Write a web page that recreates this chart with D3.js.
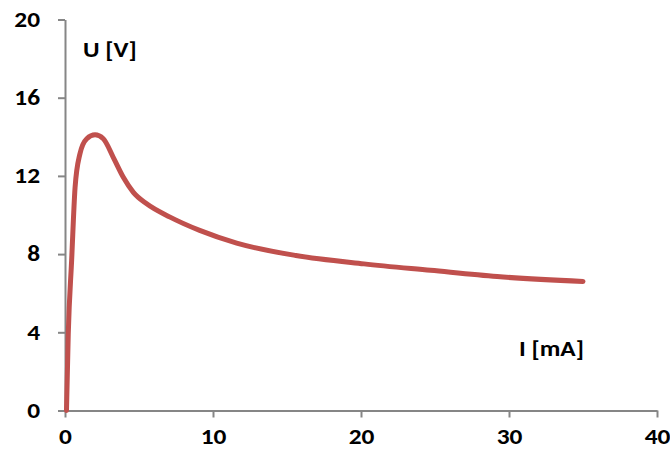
<!DOCTYPE html>
<html>
<head>
<meta charset="utf-8">
<script src="https://cdn.jsdelivr.net/npm/d3@7"></script>
<style>
  body { margin: 0; background: #fff; }
  text {
    font-family: Carlito, Lato, sans-serif;
    font-weight: bold;
    fill: #000;
    transform-box: fill-box;
    transform: scaleX(1.18);
  }
</style>
</head>
<body>
<div id="chart"></div>
<script>
// current I [mA] and voltage U [V]
const current = [0.1, 0.22, 0.45, 0.68, 1.0, 1.47, 2.03, 2.59, 3.26, 3.94, 4.62, 5.52, 7.1, 9.1, 11.6, 15.6, 20.2, 24.7, 29.2, 35];
const voltage = [0, 3.9, 7.7, 11.4, 13.1, 13.9, 14.1, 13.9, 12.95, 11.93, 11.16, 10.57, 9.89, 9.21, 8.56, 7.93, 7.5, 7.17, 6.85, 6.6];
const xTicks = [0, 10, 20, 30, 40];
const yTicks = [0, 4, 8, 12, 16, 20];

const W = 670;
const H = 458;
const margin = { t: 19.5, r: 13, b: 47.5, l: 65 };

const svg = d3.select('#chart').append('svg')
  .attr('width', W)
  .attr('height', H);

const x = d3.scaleLinear().domain([0, 40]).range([margin.l, W - margin.r]);
const y = d3.scaleLinear().domain([0, 20]).range([H - margin.b, margin.t]);

// axes
const xAxis = svg.append('g')
  .attr('transform', `translate(0, ${y(0)})`)
  .call(d3.axisBottom(x).tickValues(xTicks).tickSize(7).tickPadding(11).tickSizeOuter(0));

const yAxis = svg.append('g')
  .attr('transform', `translate(${x(0)}, 0)`)
  .call(d3.axisLeft(y).tickValues(yTicks).tickSize(7).tickPadding(18).tickSizeOuter(0));

[xAxis, yAxis].forEach((g) => {
  g.select('.domain').attr('stroke', '#868686').attr('stroke-width', 2);
  g.selectAll('.tick line').attr('stroke', '#868686').attr('stroke-width', 2);
  g.selectAll('.tick text').style('font-size', '21.5px');
});
xAxis.selectAll('.tick text').style('transform-origin', '50% 50%');
yAxis.selectAll('.tick text').style('transform-origin', '100% 50%');

// curve
const data = current.map((d, i) => ({ i: d, u: voltage[i] }));

const line = d3.line()
  .x(d => x(d.i))
  .y(d => y(d.u))
  .curve(d3.curveMonotoneX);

svg.append('path')
  .datum(data)
  .attr('fill', 'none')
  .attr('stroke', '#C0504D')
  .attr('stroke-width', 5)
  .attr('stroke-linecap', 'round')
  .attr('stroke-linejoin', 'round')
  .attr('d', line);

// axis titles
svg.append('text')
  .attr('x', 83)
  .attr('y', 57)
  .style('font-size', '21.5px')
  .style('transform-origin', '0% 50%')
  .text('U [V]');

svg.append('text')
  .attr('x', 519)
  .attr('y', 356)
  .style('font-size', '21.5px')
  .style('transform-origin', '0% 50%')
  .text('I [mA]');
</script>
</body>
</html>
